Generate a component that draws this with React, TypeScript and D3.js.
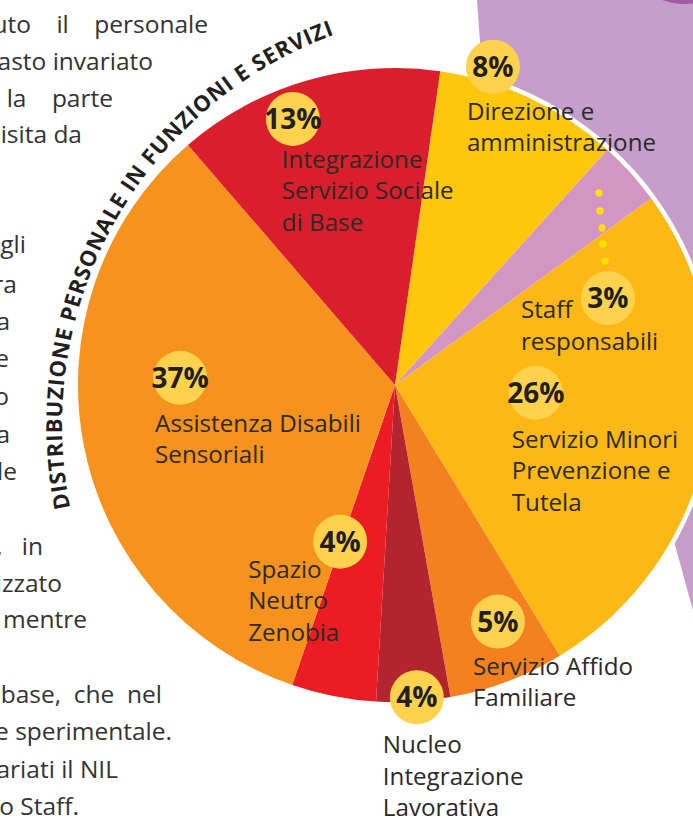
import React from "react";
import * as d3 from "d3";

// ---- data ----
const categories = [
  "Direzione e amministrazione",
  "Staff responsabili",
  "Servizio Minori Prevenzione e Tutela",
  "Servizio Affido Familiare",
  "Nucleo Integrazione Lavorativa",
  "Spazio Neutro Zenobia",
  "Assistenza Disabili Sensoriali",
  "Integrazione Servizio Sociale di Base",
];
const percentLabels = [8, 3, 26, 5, 4, 4, 37, 13];
// angular share of each slice as drawn in the picture (percent of the circle)
const sliceShares = [9.4, 3.3, 26.3, 5.9, 3.75, 4.3, 33.4, 13.6];
const labelLines = [
  ["Direzione e", "amministrazione"],
  ["Staff", "responsabili"],
  ["Servizio Minori", "Prevenzione e", "Tutela"],
  ["Servizio Affido", "Familiare"],
  ["Nucleo", "Integrazione", "Lavorativa"],
  ["Spazio", "Neutro", "Zenobia"],
  ["Assistenza Disabili", "Sensoriali"],
  ["Integrazione", "Servizio Sociale", "di Base"],
];
const title = "DISTRIBUZIONE PERSONALE IN FUNZIONI E SERVIZI";

const paragraphLines = [
  "uto\u00a0\u00a0\u00a0\u00a0il\u00a0\u00a0\u00a0\u00a0personale",
  "asto invariato",
  "la\u00a0\u00a0\u00a0\u00a0parte",
  "isita da",
  "gli", "ra", "a", "e", "o", "a", "le",
  ",\u00a0\u00a0\u00a0in",
  "izzato",
  ", mentre",
  "base,\u00a0\u00a0che\u00a0\u00a0nel",
  "e sperimentale.",
  "ariati il NIL",
  "o Staff.",
];

// ---- layout / style ----
const W = 693, H = 818;
const cx = 395, cy = 385, R = 317;
const colors = ["#FEC70B", "#D395C4", "#FDB815", "#F48120", "#B2252F", "#EC1C24", "#F6921E", "#D91F2B"];
const bubblePolar: [number, number][] = [
  [17.1, 333], [67.8, 230], [93.2, 141], [156.5, 258], [176, 313], [199.3, 166], [271.9, 215], [339, 285],
];
const labelOffsets: [number, number][] = [
  [-26, 53], [-87, 20], [-24, 55], [-25, 53], [-34, 56], [-92, 36], [-25, 54], [-11, 49],
];
const paraLayout: [number, number][] = [
  [208, 33], [153, 70], [113, 107], [82, 143],
  [26, 253], [17, 293], [10, 330], [9, 367], [9, 405], [10, 443], [17, 480],
  [43, 555], [62, 592], [87, 628],
  [162, 703], [172, 740], [118, 778], [79, 815],
];
const dots = [[599, 193], [600, 211], [602, 228], [603, 244], [605, 261]];

const deg = Math.PI / 180;
const FONT = "'Open Sans', 'Noto Sans', sans-serif";

export default function App() {
  const pie = d3
    .pie<number>()
    .sort(null)
    .value((d) => d)
    .startAngle(8.2 * deg)
    .endAngle(8.2 * deg + 2 * Math.PI);
  const arcs = pie(sliceShares);
  const arcGen = d3.arc<d3.PieArcDatum<number>>().innerRadius(0).outerRadius(R);

  // title arc path
  const tcx = 478, tcy = 425, tr = 416;
  const a0 = 258.5 * deg, a1 = 352 * deg;
  const tp = d3.path();
  tp.moveTo(tcx + tr * Math.sin(a0), tcy - tr * Math.cos(a0));
  tp.arc(tcx, tcy, tr, a0 - Math.PI / 2, a1 - Math.PI / 2, false);

  return (
    <svg
      width={W}
      height={H}
      viewBox={`0 0 ${W} ${H}`}
      style={{ position: "absolute", left: 0, top: 0, display: "block", background: "#fff" }}
      fontFamily={FONT}
    >
      {/* lavender background blob */}
      <path d="M477,0 C479,30 481,55 484,80 L620,345 L675,545 L700,636 L700,0 Z" fill="#C59FCA" />
      <circle cx={685} cy={-64} r={68} fill="#A05AA6" />

      {/* left paragraph fragments */}
      {paragraphLines.map((t, i) => (
        <text key={i} x={paraLayout[i][0]} y={paraLayout[i][1]} textAnchor="end" fontSize={24.5} fill="#333333">
          {t}
        </text>
      ))}

      {/* white ring */}
      <circle cx={cx} cy={cy} r={R + 4.5} fill="#ffffff" />

      <g transform={`translate(${cx},${cy})`}>
        {arcs.map((a, i) => (
          <path key={i} d={arcGen(a) || ""} fill={colors[i]} />
        ))}
      </g>

      {/* dotted leader for Staff */}
      {dots.map((d, i) => (
        <circle key={i} cx={d[0]} cy={d[1]} r={3.7} fill="#FFE100" />
      ))}

      {/* bubbles and labels */}
      {categories.map((c, i) => {
        const [ang, rad] = bubblePolar[i];
        const [px, py] = d3.pointRadial(ang * deg, rad);
        const bx = cx + px, by = cy + py;
        const [ox, oy] = labelOffsets[i];
        return (
          <g key={c}>
            <circle cx={bx} cy={by} r={27} fill="#FFD24E" />
            <text x={bx} y={by + 10} textAnchor="middle" fontSize={28} fontWeight={700} fill="#231F20">
              {percentLabels[i]}%
            </text>
            {labelLines[i].map((ln, j) => (
              <text key={j} x={bx + ox} y={by + oy + j * 31.5} fontSize={24.2} fill="#2B2A29">
                {ln}
              </text>
            ))}
          </g>
        );
      })}

      {/* curved title */}
      <defs>
        <path id="titleArc" d={tp.toString()} />
      </defs>
      <text fontSize={22} fontWeight={700} fill="#231F20">
        <textPath href="#titleArc" textLength={590} lengthAdjust="spacing">
          {title}
        </textPath>
      </text>
    </svg>
  );
}
